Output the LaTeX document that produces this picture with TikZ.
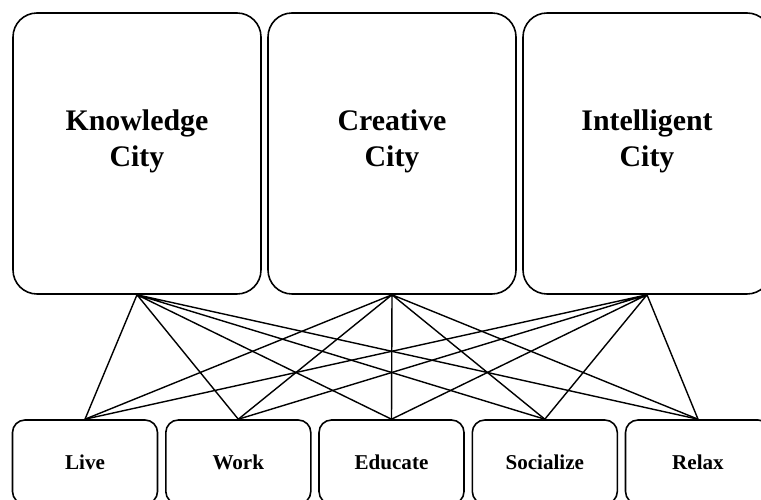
\documentclass[tikz,border=0pt]{standalone}
\usepackage{fontspec}
\setmainfont{Liberation Serif}
\tikzset{
    citybox/.style={draw,line width=0.9pt,rounded corners=0.48cm,minimum width=4.96cm,minimum height=5.62cm,inner sep=0pt},
    citytext/.style={align=center,font=\fontsize{17}{20.5}\selectfont\bfseries},
    actbox/.style={draw,line width=0.9pt,rounded corners=0.25cm,minimum width=2.9cm,minimum height=1.68cm,inner sep=0pt,font=\fontsize{12}{14}\selectfont\bfseries},
    link/.style={line width=0.8pt}
}
\begin{document}
\begin{tikzpicture}
    \useasboundingbox (0,0) rectangle (15.22,-10);

    % draw the city boxes
    \node[citybox] (kc) at (2.74,-3.07) {};
    \node[citybox] (cc) at (7.84,-3.07) {};
    \node[citybox] (ic) at (12.94,-3.07) {};

    % label the cities
    \node[citytext] (kctext) at (2.74,-2.82) {Knowledge\\City};
    \node[citytext] (cctext) at (7.84,-2.82) {Creative\\City};
    \node[citytext] (ictext) at (12.94,-2.82) {Intelligent\\City};

    % draw the activity boxes
    \node[actbox] (live) at (1.70,-9.24) {Live};
    \node[actbox] (work) at (4.766,-9.24) {Work};
    \node[actbox] (educate) at (7.83,-9.24) {Educate};
    \node[actbox] (socialize) at (10.896,-9.24) {Socialize};
    \node[actbox] (relax) at (13.96,-9.24) {Relax};

    % draw the links from each city
    \draw[link] (kc.south) -- (live.north) (kc.south) -- (work.north) (kc.south) -- (educate.north) (kc.south) -- (socialize.north) (kc.south) -- (relax.north);
    \draw[link] (cc.south) -- (live.north) (cc.south) -- (work.north) (cc.south) -- (educate.north) (cc.south) -- (socialize.north) (cc.south) -- (relax.north);
    \draw[link] (ic.south) -- (live.north) (ic.south) -- (work.north) (ic.south) -- (educate.north) (ic.south) -- (socialize.north) (ic.south) -- (relax.north);
\end{tikzpicture}
\end{document}
